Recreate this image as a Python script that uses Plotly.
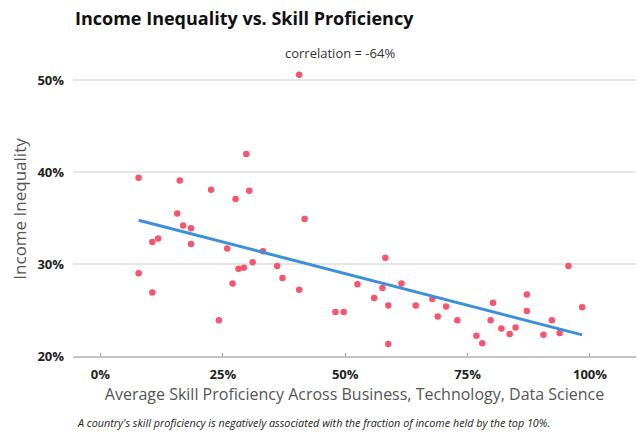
import numpy as np
import plotly.graph_objects as go

skill = [40.6, 29.8, 7.8, 16.2, 22.6, 30.4, 27.6, 15.7, 41.7, 16.9, 18.5, 11.8, 10.6, 18.5,
         25.9, 33.2, 31.1, 36.1, 28.2, 29.3, 7.8, 37.2, 27.0, 52.5, 40.6, 10.6, 48.0, 49.7, 24.2,
         58.2, 95.6, 61.5, 57.6, 87.1, 55.9, 67.8, 80.2, 58.8, 64.4, 70.6, 98.4, 87.1, 68.9,
         72.9, 79.7, 92.2, 81.9, 84.8, 83.6, 93.8, 90.5, 76.8, 78.0, 58.8]
inequality = [50.6, 42.0, 39.4, 39.1, 38.1, 38.0, 37.1, 35.5, 34.9, 34.2, 33.9, 32.8, 32.4, 32.2,
              31.7, 31.4, 30.2, 29.8, 29.5, 29.6, 29.0, 28.5, 27.9, 27.8, 27.2, 26.9, 24.8, 24.8, 23.9,
              30.7, 29.8, 27.9, 27.4, 26.7, 26.3, 26.2, 25.8, 25.5, 25.5, 25.4, 25.3, 24.9, 24.3,
              23.9, 23.9, 23.9, 23.0, 23.1, 22.4, 22.5, 22.3, 22.2, 21.4, 21.3]
x_ticks = [0, 25, 50, 75, 100]
x_labels = ["0%", "25%", "50%", "75%", "100%"]
y_ticks = [20, 30, 40, 50]
y_labels = ["20%", "30%", "40%", "50%"]

xs = np.array(skill)
ys = np.array(inequality)
slope, intercept = np.polyfit(xs, ys, 1)
fit_x = [xs.min(), xs.max()]
fit_y = [intercept + slope * v for v in fit_x]
corr = np.corrcoef(xs, ys)[0, 1]

L, R, T, B = 73, 1, 62, 76
W, H = 637, 432
pw = W - L - R
ph = H - T - B

fig = go.Figure()
fig.add_trace(go.Scatter(x=skill, y=inequality, mode="markers",
                         marker=dict(color="#f5566d", size=6.5, line=dict(width=0)),
                         hoverinfo="x+y", showlegend=False))
fig.add_trace(go.Scatter(x=fit_x, y=fit_y, mode="lines",
                         line=dict(color="#3c8fd9", width=3), showlegend=False))

fig.update_layout(
    width=W, height=H,
    margin=dict(l=L, r=R, t=T, b=B),
    paper_bgcolor="white", plot_bgcolor="white",
    font=dict(family="Open Sans, sans-serif", color="#222"),
    title=dict(text="<b>Income Inequality vs. Skill Proficiency</b>", x=75 / W, xanchor="left",
               y=1 - 19 / H, yanchor="middle", font=dict(size=18, color="#111")),
    annotations=[
        dict(text="correlation = %d%%" % round(corr * 100),
             x=(340 - L) / pw, xref="paper", xanchor="center",
             y=(H - B - 53) / ph, yref="paper", yanchor="middle", showarrow=False,
             font=dict(size=13, color="#333")),
        dict(text="<i>A country's skill proficiency is negatively associated with the fraction of income held by the top 10%.</i>",
             x=(75 - L) / pw, xref="paper", y=(H - B - 422) / ph, yref="paper", showarrow=False,
             xanchor="left", yanchor="middle", font=dict(size=10.8, color="#222")),
    ],
)

fig.update_xaxes(range=[-5.6, 109.4], tickvals=x_ticks, ticktext=x_labels, automargin=False,
                 showgrid=False, zeroline=False, showline=True, linecolor="#c4c4c4", linewidth=2,
                 ticks="inside", ticklen=3, tickcolor="#999",
                 tickfont=dict(size=13, color="#222", family="Open Sans, sans-serif", weight="bold"),
                 ticklabelstandoff=5,
                 title=dict(text="Average Skill Proficiency Across Business, Technology, Data Science",
                            font=dict(size=16, color="#555"), standoff=4))
fig.update_yaxes(range=[20, 52], tickvals=y_ticks, ticktext=y_labels, automargin=False,
                 showgrid=True, gridcolor="#e6e6e6", gridwidth=1.5, zeroline=False,
                 tickfont=dict(size=13, color="#222", family="Open Sans, sans-serif", weight="bold"),
                 ticklabelstandoff=8,
                 title=dict(text="Income Inequality", font=dict(size=17, color="#555"), standoff=6))

fig.write_html("out.html", config={"displayModeBar": False},
               post_script="document.body.style.margin='0';document.body.style.overflow='hidden';")
